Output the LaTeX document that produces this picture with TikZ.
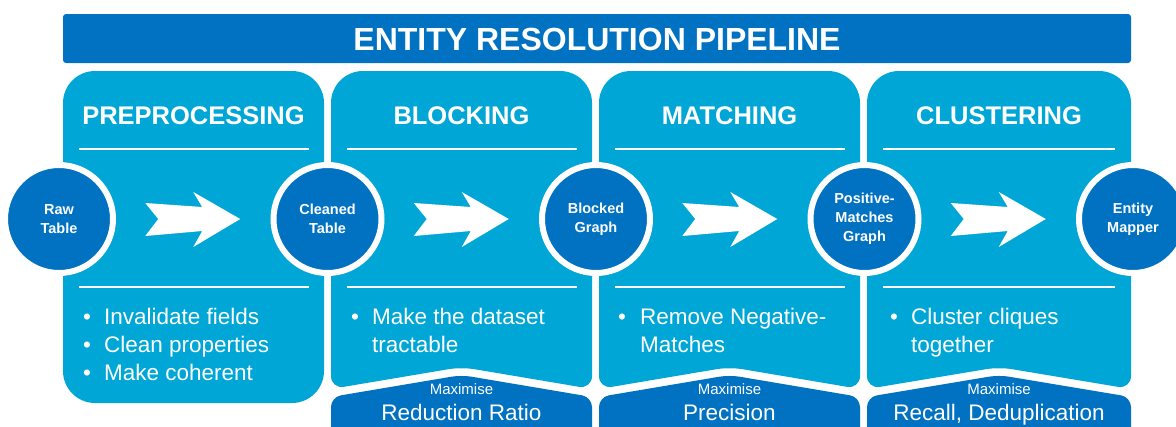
\documentclass[tikz,border=0pt]{standalone}
\usepackage{fontspec}
\setmainfont{Liberation Sans}
\usetikzlibrary{calc}
\definecolor{dkblue}{RGB}{0,114,193}
\definecolor{ltblue}{RGB}{0,167,214}
\begin{document}
\begin{tikzpicture}[x=1pt,y=-1pt,
  panelfill/.style={fill=ltblue},
  boxfill/.style={fill=dkblue, rounded corners=10},
  sepline/.style={draw=white, line width=2},
  headtxt/.style={text=white, anchor=base, inner sep=0, font=\bfseries\fontsize{25.5}{30}\selectfont},
  titletxt/.style={text=white, anchor=base, inner sep=0, font=\bfseries\fontsize{32}{38}\selectfont},
  circnode/.style={circle, fill=dkblue, draw=white, line width=6, minimum size=108, inner sep=0,
     text=white, align=center, font=\bfseries\fontsize{14.5}{19}\selectfont},
  bulletdot/.style={text=white, anchor=base, inner sep=0, font=\fontsize{22.5}{28}\selectfont},
  bullettxt/.style={text=white, anchor=base west, inner sep=0, font=\fontsize{22.5}{28}\selectfont},
  maxtxt/.style={text=white, anchor=base, inner sep=0, font=\fontsize{15}{18}\selectfont},
  goaltxt/.style={text=white, anchor=base, inner sep=0, font=\fontsize{22.5}{27}\selectfont},
  blockarrow/.style={fill=white}
]
\useasboundingbox (0,0) rectangle (1176,426);
\clip (0,0) rectangle (1176,426);

% title bar
\fill[dkblue, rounded corners=3] (63,14) rectangle (1131,63);
\node[titletxt] (title) at (597,50) {ENTITY RESOLUTION PIPELINE};

% panels
\fill[panelfill, rounded corners=32] (63,71) rectangle (324,403);
\fill[panelfill, rounded corners=32] (331,71) rectangle (592,300);
\fill[panelfill, rounded corners=13] (331,250) -- (592,250) -- (592,389) -- (461.5,367) -- (331,389) -- cycle;
\fill[panelfill, rounded corners=32] (599,71) rectangle (860,300);
\fill[panelfill, rounded corners=13] (599,250) -- (860,250) -- (860,389) -- (729.5,367) -- (599,389) -- cycle;
\fill[panelfill, rounded corners=32] (867,71) rectangle (1131,300);
\fill[panelfill, rounded corners=13] (867,250) -- (1131,250) -- (1131,389) -- (999,367) -- (867,389) -- cycle;

% bottom goal boxes
\fill[boxfill] (331,397) -- (461.5,375) -- (592,397) -- (592,460) -- (331,460) -- cycle;
\fill[boxfill] (599,397) -- (729.5,375) -- (860,397) -- (860,460) -- (599,460) -- cycle;
\fill[boxfill] (867,397) -- (999,375) -- (1131,397) -- (1131,460) -- (867,460) -- cycle;

% separator lines
\draw[sepline] (79,149) -- (309,149);
\draw[sepline] (79,287) -- (309,287);
\draw[sepline] (347,149) -- (577,149);
\draw[sepline] (347,287) -- (577,287);
\draw[sepline] (615,149) -- (845,149);
\draw[sepline] (615,287) -- (845,287);
\draw[sepline] (883,149) -- (1115,149);
\draw[sepline] (883,287) -- (1115,287);

% headings
\node[headtxt] (h1) at (193.5,124) {PREPROCESSING};
\node[headtxt] (h2) at (461.5,124) {BLOCKING};
\node[headtxt] (h3) at (729.5,124) {MATCHING};
\node[headtxt] (h4) at (999,124) {CLUSTERING};

% circles
\node[circnode] (c1) at (59,219) {Raw\\Table};
\node[circnode] (c2) at (327.5,219) {Cleaned\\Table};
\node[circnode] (c3) at (596,219) {Blocked\\Graph};
\node[circnode] (c4) at (864.5,219) {Positive-\\Matches\\Graph};
\node[circnode] (c5) at (1133,219) {Entity\\Mapper};

% block arrows
\foreach \a/\b in {c1/c2, c2/c3, c3/c4, c4/c5}{
  \fill[blockarrow, shift={($(\a)!0.5!(\b)$)}]
    (-48,-16) -- (9,-12) -- (0,-27) -- (47,0) -- (0,28) -- (9,12) -- (-48,17) -- (-35,0) -- cycle;
}

% bullets panel 1
\node[bulletdot] (d1a) at (87,324) {•};
\node[bullettxt] (t1a) at (104,324) {Invalidate fields};
\node[bulletdot] (d1b) at (87,352) {•};
\node[bullettxt] (t1b) at (104,352) {Clean properties};
\node[bulletdot] (d1c) at (87,380) {•};
\node[bullettxt] (t1c) at (104,380) {Make coherent};
% panel 2
\node[bulletdot] (d2a) at (355,324) {•};
\node[bullettxt] (t2a) at (372,324) {Make the dataset};
\node[bullettxt] (t2b) at (372,352) {tractable};
% panel 3
\node[bulletdot] (d3a) at (622,324) {•};
\node[bullettxt] (t3a) at (640,324) {Remove Negative-};
\node[bullettxt] (t3b) at (640,352) {Matches};
% panel 4
\node[bulletdot] (d4a) at (894,324) {•};
\node[bullettxt] (t4a) at (911,324) {Cluster cliques};
\node[bullettxt] (t4b) at (911,352) {together};

% goal texts
\node[maxtxt] (m2) at (461.5,394) {Maximise};
\node[goaltxt] (g2) at (461.5,420) {Reduction Ratio};
\node[maxtxt] (m3) at (729.5,394) {Maximise};
\node[goaltxt] (g3) at (729.5,420) {Precision};
\node[maxtxt] (m4) at (999,394) {Maximise};
\node[goaltxt] (g4) at (999,420) {Recall, Deduplication};
\end{tikzpicture}
\end{document}
